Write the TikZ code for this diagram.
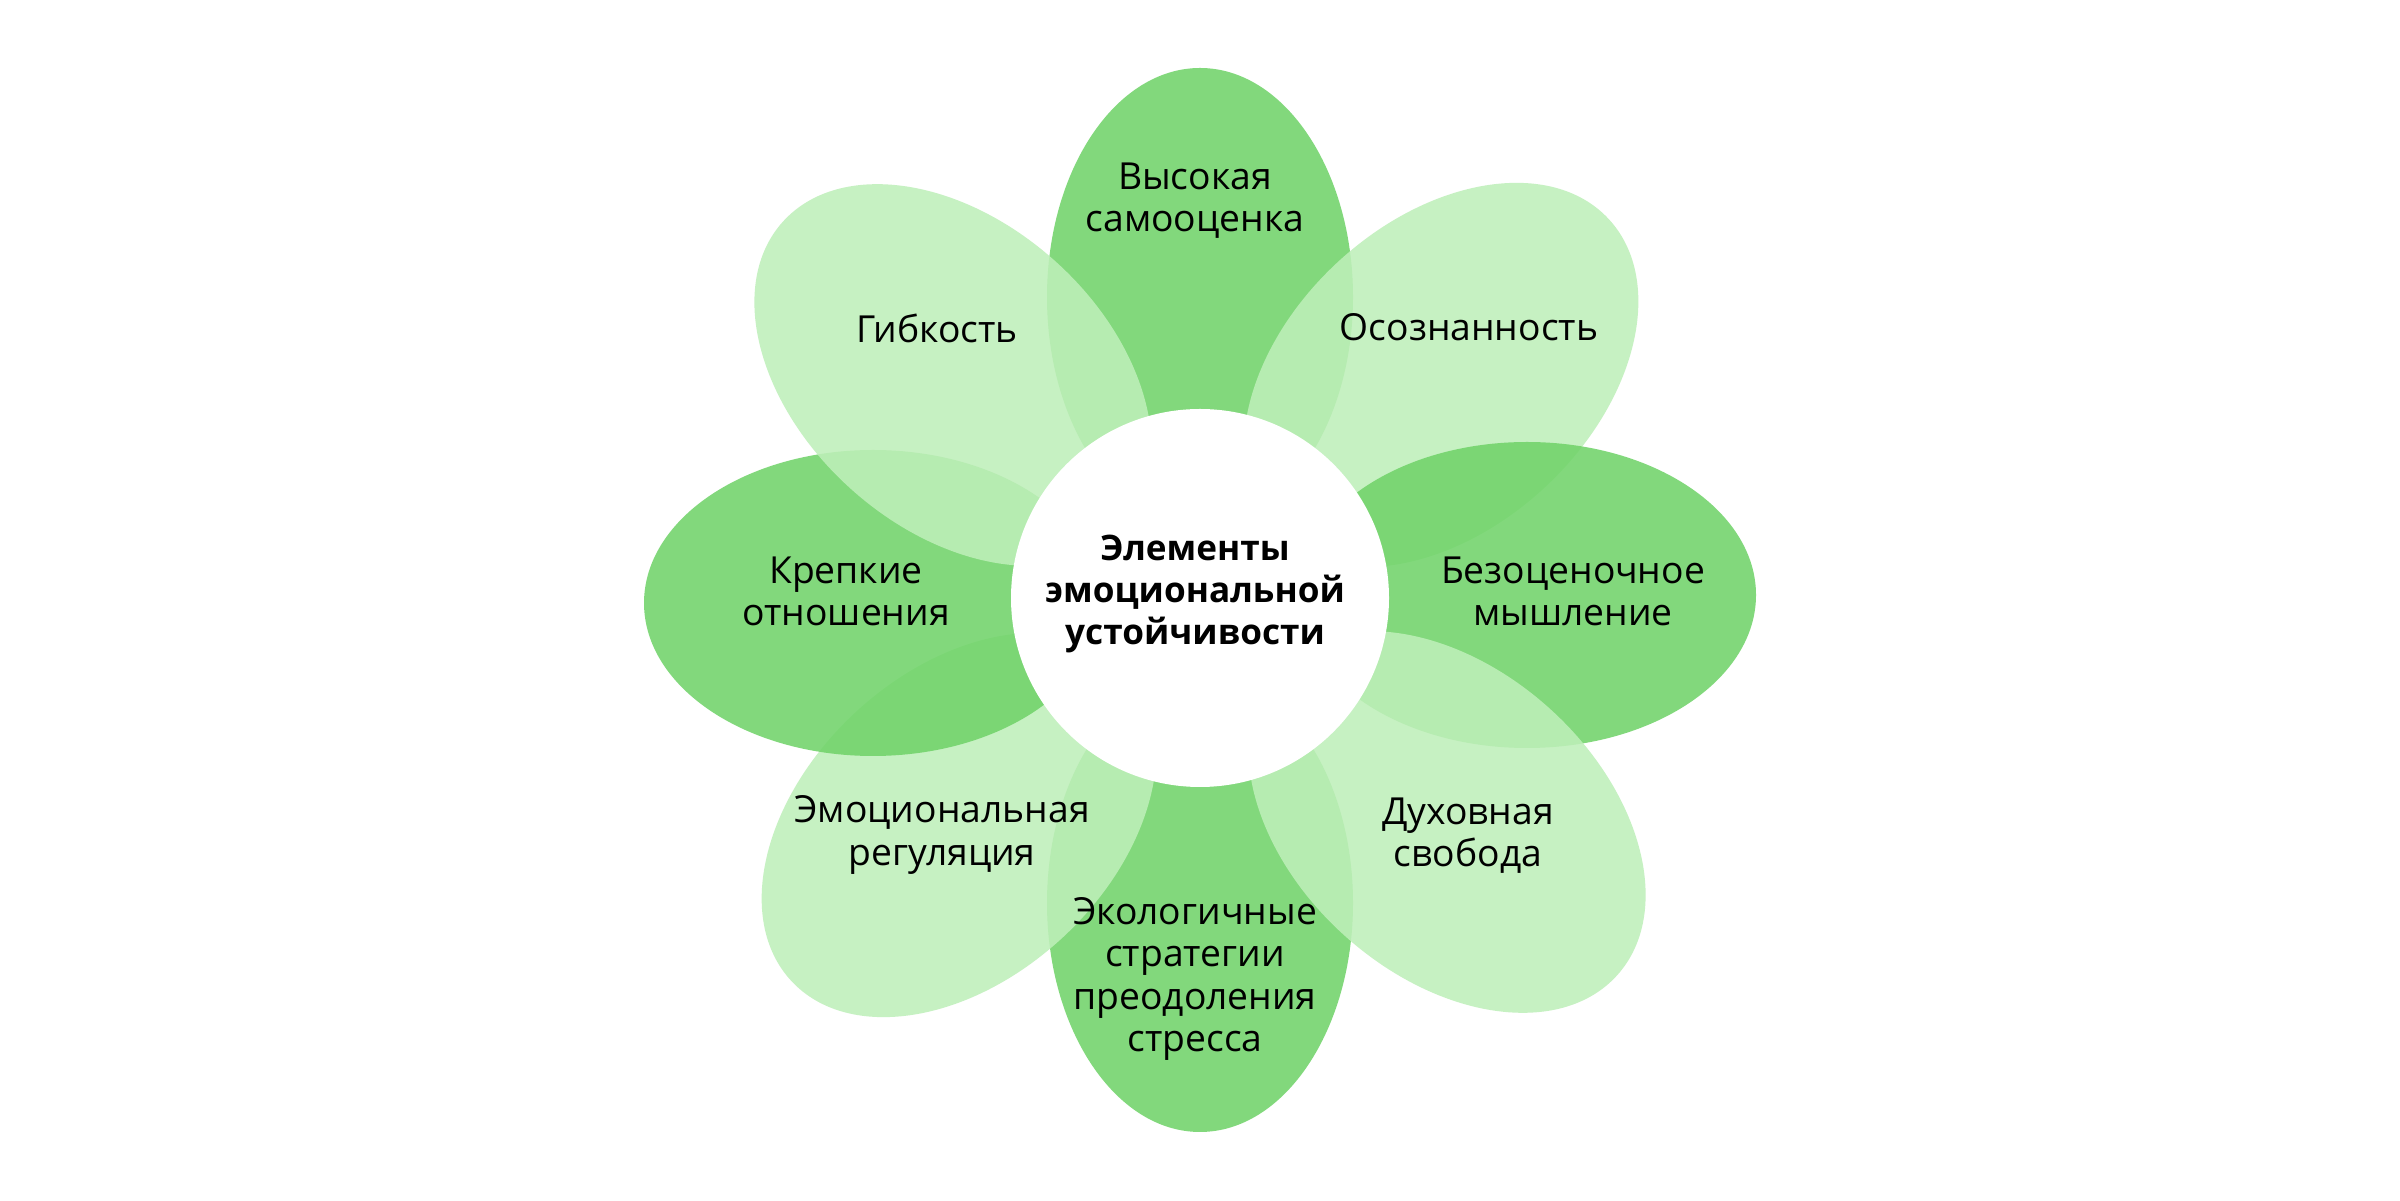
\documentclass[tikz,border=0pt]{standalone}
\usepackage{fontspec}
\setmainfont{Open Sans}
\usetikzlibrary{shapes.geometric}
\definecolor{leafdark}{HTML}{70D369}
\definecolor{leaflight}{HTML}{BEEFB9}

\begin{document}
\begin{tikzpicture}[x=0.1mm,y=0.1mm]
\tikzstyle{petal}=[ellipse, inner sep=0pt, minimum width=45.8mm, minimum height=30.6mm, fill opacity=0.87]
\tikzstyle{darkpetal}=[petal, fill=leafdark]
\tikzstyle{lightpetal}=[petal, fill=leaflight]
\tikzstyle{txt}=[align=center, inner sep=0pt, font=\fontsize{10.6}{12}\selectfont]
  \fill[white] (0,0) rectangle (2400,1200);
  \useasboundingbox (0,0) rectangle (2400,1200);

  % petals, bottom layer first
  \node[darkpetal, rotate=90] (pb) at (1200,297) {};
  \node[lightpetal, rotate=43] (pll) at (959,375) {};
  \node[darkpetal] (pl) at (873,597) {};
  \node[darkpetal, rotate=90] (pt) at (1200,903) {};
  \node[lightpetal, rotate=-42] (pul) at (953,825) {};
  \node[lightpetal, rotate=43] (pur) at (1441,825) {};
  \node[darkpetal] (pr) at (1527,605) {};
  \node[lightpetal, rotate=-42] (plr) at (1447,378) {};

  \node[circle, fill=white, minimum size=37.8mm, inner sep=0pt] (hub) at (1200,602) {};

  % labels
  \node[txt, font=\fontsize{10}{12}\selectfont\bfseries] (core) at (1195,606) {Элементы\\эмоциональной\\устойчивости};
  \node[txt] (tt) at (1195,999) {Высокая\\самооценка};
  \node[txt] (tul) at (937,872) {Гибкость};
  \node[txt] (tur) at (1469,873) {Осознанность};
  \node[txt] (tl) at (846,609) {Крепкие\\отношения};
  \node[txt] (tr) at (1573,609) {Безоценочное\\мышление};
  \node[txt] (tll) at (942,365) {Эмоциональная\\регуляция};
  \node[txt] (tlr) at (1468,364) {Духовная\\свобода};
  \node[txt] (tb) at (1195,221) {Экологичные\\стратегии\\преодоления\\стресса};
\end{tikzpicture}
\end{document}
